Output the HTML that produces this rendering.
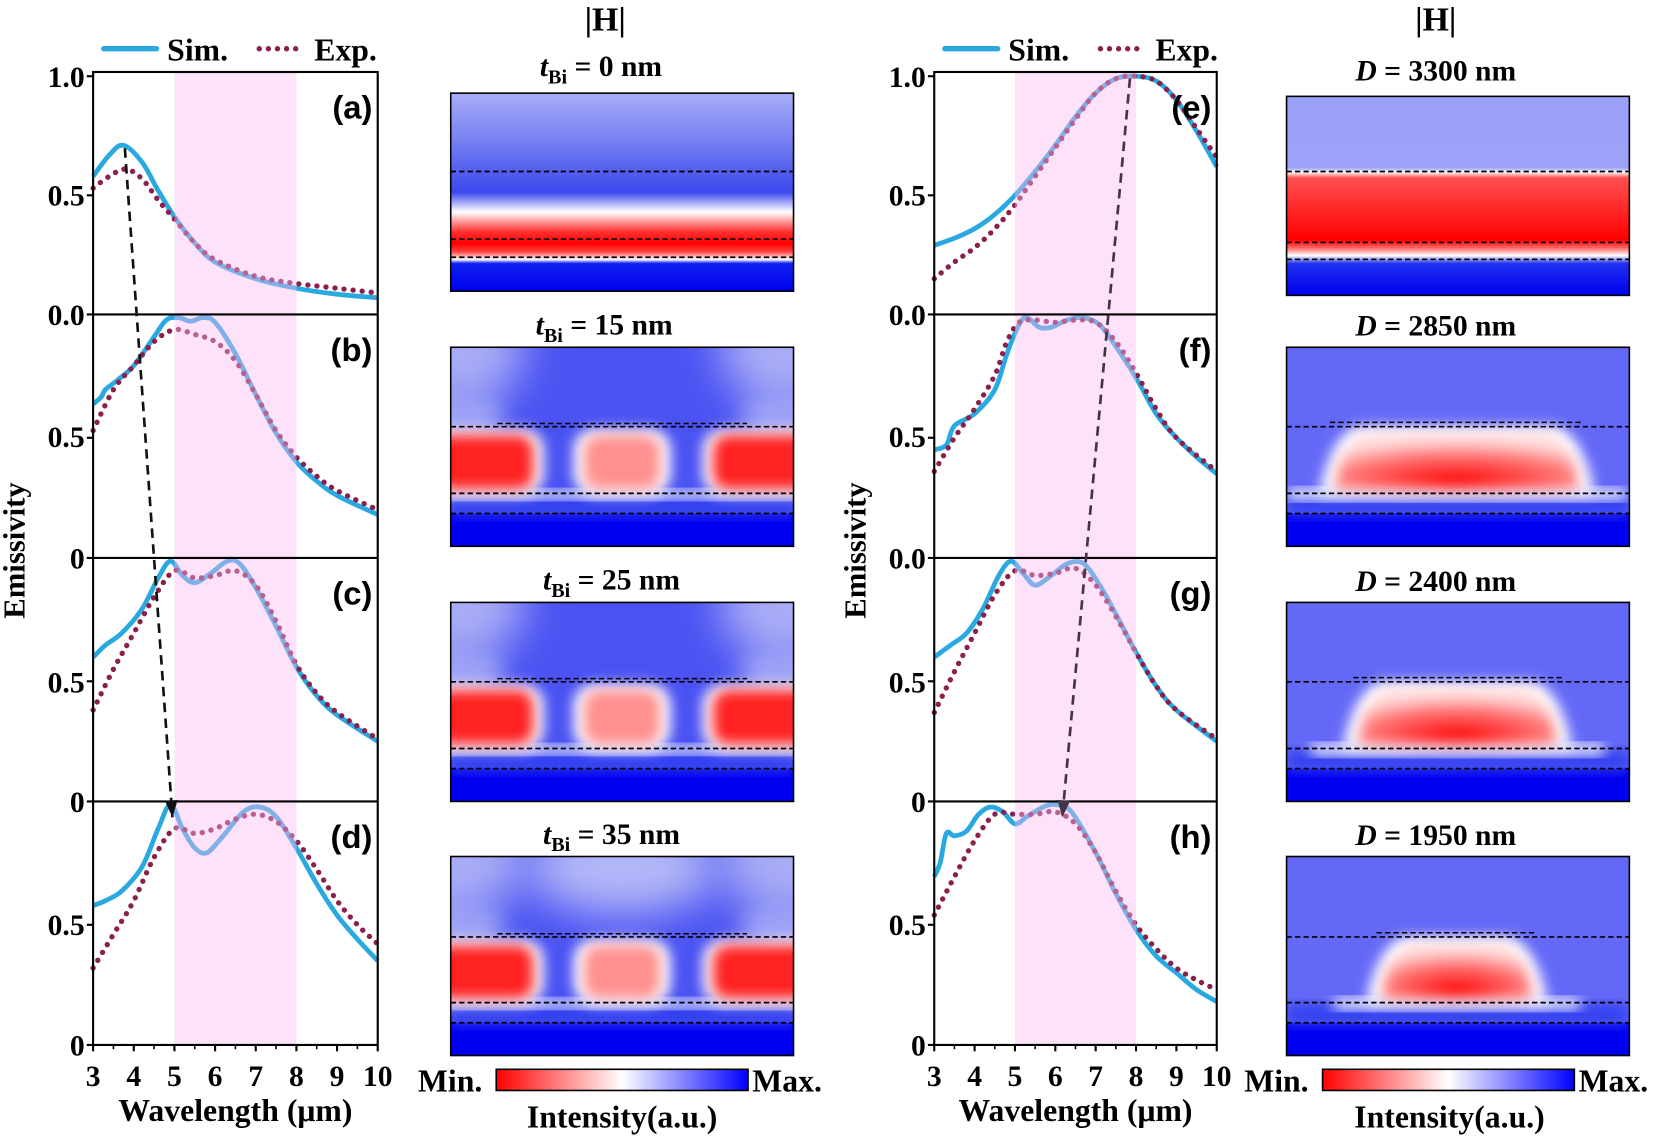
<!DOCTYPE html>
<html><head><meta charset="utf-8"><style>
html,body{margin:0;padding:0;background:#fff}
svg{display:block}
text{font-family:"Liberation Serif",serif;font-weight:bold;fill:#000}
.pl{font-family:"Liberation Sans",sans-serif;font-size:31px}
.tk{font-size:28px}
</style></head><body>
<svg id="s" width="1659" height="1136" viewBox="0 0 1568 1073" preserveAspectRatio="none" xmlns="http://www.w3.org/2000/svg">
<defs>
<filter id="b6" x="-30%" y="-30%" width="160%" height="160%"><feGaussianBlur stdDeviation="6"/></filter>
<filter id="b10" x="-30%" y="-30%" width="160%" height="160%"><feGaussianBlur stdDeviation="10"/></filter>
<filter id="b20" x="-50%" y="-50%" width="200%" height="200%"><feGaussianBlur stdDeviation="20"/></filter>
<linearGradient id="cb" x1="0" x2="1"><stop offset="0" stop-color="#ff0000"/><stop offset="0.5" stop-color="#ffffff"/><stop offset="1" stop-color="#0000ff"/></linearGradient>
<linearGradient id="ga" x1="0" y1="0" x2="0" y2="1">
<stop offset="0" stop-color="#a8aef7"/><stop offset="0.3" stop-color="#6a74f0"/><stop offset="0.5" stop-color="#3c48ee"/>
<stop offset="0.6" stop-color="#ffffff"/><stop offset="0.7" stop-color="#ff3030"/><stop offset="0.76" stop-color="#ff0000"/>
<stop offset="0.8" stop-color="#ff4040"/><stop offset="0.84" stop-color="#ffffff"/><stop offset="0.86" stop-color="#1020f0"/><stop offset="1" stop-color="#0000ee"/></linearGradient>
<linearGradient id="ge" x1="0" y1="0" x2="0" y2="1">
<stop offset="0" stop-color="#9aa0f8"/><stop offset="0.36" stop-color="#9ca2f8"/><stop offset="0.38" stop-color="#ffffff"/>
<stop offset="0.41" stop-color="#ff5050"/><stop offset="0.72" stop-color="#ff0000"/><stop offset="0.76" stop-color="#ff6060"/>
<stop offset="0.8" stop-color="#ffffff"/><stop offset="0.84" stop-color="#2030f0"/><stop offset="1" stop-color="#0000ee"/></linearGradient>
<radialGradient id="rd" cx="0.5" cy="0.85" r="0.7"><stop offset="0" stop-color="#ff0000"/><stop offset="0.7" stop-color="#ff8080"/><stop offset="1" stop-color="#ffe0e0"/></radialGradient>
</defs>
<g id="g"></g>
</svg>
<script>
var NS="http://www.w3.org/2000/svg",G=document.getElementById("g");
function el(t,a,txt,p){var e=document.createElementNS(NS,t);for(var k in a)e.setAttribute(k,a[k]);if(txt!=null)e.textContent=txt;(p||G).appendChild(e);return e;}
function path(pts){var d="M"+pts[0][0]+","+pts[0][1];for(var i=0;i<pts.length-1;i++){var p0=pts[i-1]||pts[i],p1=pts[i],p2=pts[i+1],p3=pts[i+2]||p2;
var c1=[p1[0]+(p2[0]-p0[0])/6,p1[1]+(p2[1]-p0[1])/6],c2=[p2[0]-(p3[0]-p1[0])/6,p2[1]-(p3[1]-p1[1])/6];
d+="C"+c1[0].toFixed(1)+","+c1[1].toFixed(1)+" "+c2[0].toFixed(1)+","+c2[1].toFixed(1)+" "+p2[0].toFixed(1)+","+p2[1].toFixed(1);}return d;}
var D={
a:[[[3,.58],[3.4,.67],[3.75,.71],[4.2,.64],[4.6,.52],[5,.41],[5.5,.3],[6,.22],[7,.15],[8,.11],[9,.085],[10,.07]],
[[3,.53],[3.4,.58],[3.8,.61],[4.2,.57],[4.6,.48],[5,.4],[5.5,.3],[6,.23],[7,.16],[8,.13],[9,.11],[10,.09]]],
b:[[[3,.64],[3.2,.67],[3.3,.7],[3.6,.74],[4,.8],[4.5,.92],[4.8,.99],[5.1,1],[5.4,.985],[5.7,1],[6,.98],[6.5,.85],[7,.68],[7.5,.52],[8,.4],[8.5,.32],[9,.26],[10,.18]],
[[3,.53],[3.5,.7],[4,.8],[4.5,.9],[5,.95],[5.5,.93],[6,.9],[6.5,.82],[7,.68],[7.5,.53],[8,.42],[8.5,.34],[9,.28],[10,.2]]],
c:[[[3,.6],[3.3,.65],[3.7,.7],[4.2,.8],[4.6,.93],[4.9,1],[5.2,.94],[5.5,.91],[5.9,.95],[6.3,1],[6.6,.99],[7,.89],[7.5,.73],[8,.56],[8.5,.44],[9,.36],[10,.25]],
[[3,.38],[3.5,.55],[4,.7],[4.5,.85],[5,.96],[5.5,.93],[6,.94],[6.5,.96],[7,.9],[7.5,.75],[8,.57],[8.5,.45],[9,.37],[10,.26]]],
d:[[[3,.58],[3.3,.6],[3.7,.64],[4.2,.74],[4.6,.9],[4.9,1],[5.2,.9],[5.5,.82],[5.8,.8],[6.2,.87],[6.7,.97],[7.1,.99],[7.5,.95],[8,.82],[8.5,.67],[9,.54],[9.5,.44],[10,.35]],
[[3,.32],[3.5,.46],[4,.6],[4.5,.78],[5,.9],[5.5,.88],[6,.9],[6.5,.94],[7,.96],[7.5,.93],[8,.85],[8.5,.73],[9,.6],[9.5,.5],[10,.42]]],
e:[[[3,.29],[3.5,.32],[4,.36],[4.5,.42],[5,.5],[5.5,.6],[6,.71],[6.5,.83],[7,.93],[7.5,.99],[8,1],[8.5,.98],[9,.9],[9.5,.77],[10,.62]],
[[3,.15],[3.5,.22],[4,.28],[4.5,.36],[5,.46],[5.5,.58],[6,.7],[6.5,.82],[7,.93],[7.5,.99],[8,1],[8.5,.98],[9,.9],[9.5,.78],[10,.66]]],
f:[[[3,.45],[3.3,.47],[3.5,.55],[4,.6],[4.5,.7],[4.8,.85],[5.1,.97],[5.3,1],[5.6,.96],[5.9,.96],[6.3,.99],[6.7,1],[7.1,.97],[7.5,.88],[8,.75],[8.5,.6],[9,.5],[9.5,.42],[10,.35]],
[[3,.36],[3.5,.5],[4,.62],[4.5,.76],[4.8,.9],[5.1,.98],[5.5,.99],[6,.98],[6.5,.99],[7,.98],[7.5,.9],[8,.77],[8.5,.62],[9,.5],[10,.36]]],
g:[[[3,.6],[3.4,.65],[3.8,.7],[4.2,.8],[4.6,.94],[4.9,1],[5.2,.95],[5.5,.9],[5.9,.94],[6.3,.99],[6.7,.99],[7.1,.9],[7.5,.78],[8,.62],[8.5,.48],[9,.38],[10,.25]],
[[3,.37],[3.5,.54],[4,.7],[4.5,.86],[5,.96],[5.5,.94],[6,.95],[6.5,.97],[7,.9],[7.5,.77],[8,.62],[8.5,.48],[9,.38],[10,.26]]],
h:[[[3,.7],[3.15,.76],[3.3,.88],[3.5,.87],[3.8,.89],[4.1,.96],[4.4,.99],[4.7,.97],[5,.92],[5.3,.95],[5.7,.99],[6,1],[6.4,.97],[7,.8],[7.5,.63],[8,.48],[8.5,.37],[9,.3],[9.5,.23],[10,.18]],
[[3,.54],[3.5,.7],[4,.85],[4.5,.96],[5,.96],[5.5,.96],[6,.97],[6.5,.92],[7,.8],[7.5,.64],[8,.5],[8.5,.4],[9,.32],[9.5,.27],[10,.23]]]};
var tops=[68,297,527,757],bot=[297,527,757,987];
function plotCol(x0,x1,keys,lab){
 var sx=function(l){return x0+(l-3)*(x1-x0)/7;};
 keys.forEach(function(k,i){
  var yb=bot[i],yt=(i==0?72:tops[i]+3),sy=function(v){return yb-v*(yb-yt);};
  var s=D[k];
  el("path",{d:path(s[0].map(function(p){return[sx(p[0]),sy(p[1])];})),fill:"none",stroke:"#29a9e0","stroke-width":4.5});
  el("path",{d:path(s[1].map(function(p){return[sx(p[0]),sy(p[1])];})),fill:"none",stroke:"#8b1f4e","stroke-width":5,"stroke-dasharray":"0.1 8.5","stroke-linecap":"round"});
  el("rect",{x:sx(5),y:tops[i],width:sx(8)-sx(5),height:bot[i]-tops[i],fill:"rgb(250,185,240)","fill-opacity":0.42});
  el("text",{x:x1-5,y:tops[i]+44,"text-anchor":"end","class":"pl"},"("+k+")");
  var labs=i==0?[yt,(yt+yb)/2,yb]:[(yt+yb)/2,yb];
  labs.forEach(function(t){el("line",{x1:x0-6,x2:x0,y1:t,y2:t,stroke:"#000","stroke-width":2});});
 });
 var L=[["1.0",72],["0.5",184],["0.0",297],["0.5",412],[lab?"0.0":"0",527],["0.5",644],["0",757],["0.5",873],["0",987]];
 L.forEach(function(t){el("text",{x:x0-8,y:t[1]+10,"text-anchor":"end","class":"tk"},t[0]);});
 el("rect",{x:x0,y:68,width:x1-x0,height:919,fill:"none",stroke:"#000","stroke-width":2});
 [297,527,757].forEach(function(y){el("line",{x1:x0,x2:x1,y1:y,y2:y,stroke:"#000","stroke-width":2});});
 for(var l=3;l<=10;l++){var x=sx(l);el("line",{x1:x,x2:x,y1:987,y2:993,stroke:"#000","stroke-width":2});
  el("text",{x:x,y:1026,"text-anchor":"middle","class":"tk"},""+l);
  if(l<10)el("line",{x1:x+(sx(l+1)-x)/2,x2:x+(sx(l+1)-x)/2,y1:987,y2:991,stroke:"#000","stroke-width":1.5});}
 el("text",{x:(x0+x1)/2,y:1059,"text-anchor":"middle","font-size":30},"Wavelength (μm)");
 el("text",{x:0,y:0,transform:"translate("+(x0-65)+",520) rotate(-90)","text-anchor":"middle","font-size":29},"Emissivity");
 el("line",{x1:x0+10,x2:x0+60,y1:46,y2:46,stroke:"#29a9e0","stroke-width":5,"stroke-linecap":"round"});
 el("text",{x:x0+70,y:57,"font-size":30},"Sim.");
 el("line",{x1:x0+157,x2:x0+200,y1:46,y2:46,stroke:"#8b1f4e","stroke-width":5,"stroke-dasharray":"0.1 8.5","stroke-linecap":"round"});
 el("text",{x:x0+209,y:57,"font-size":30},"Exp.");
}
plotCol(88,357,["a","b","c","d"],false);
plotCol(883,1150,["e","f","g","h"],true);
function arrow(x1,y1,x2,y2,c){el("line",{x1:x1,y1:y1,x2:x2,y2:y2,stroke:c,"stroke-width":2.5,"stroke-dasharray":"9 6"});
 var a=Math.atan2(y2-y1,x2-x1),L=16,w=6;var bx=x2-L*Math.cos(a),by=y2-L*Math.sin(a);
 el("polygon",{points:x2+","+y2+" "+(bx-w*Math.sin(a))+","+(by+w*Math.cos(a))+" "+(bx+w*Math.sin(a))+","+(by-w*Math.cos(a)),fill:c});}
arrow(118,140,163,772,"#111");
arrow(1068,74,1004,772,"#443344");

var cid=0;
function clip(x,y,w,h){var id="c"+(cid++);var c=el("clipPath",{id:id});el("rect",{x:x,y:y,width:w,height:h},null,c);return id;}
function dash(x0,x1,y){el("line",{x1:x0,x2:x1,y1:y,y2:y,stroke:"#000","stroke-width":1.6,"stroke-dasharray":"5 3"});}
function mapA(x,y,w,h,grad,l1,l2,l3){el("rect",{x:x,y:y,width:w,height:h,fill:"url(#"+grad+")"});dash(x,x+w,l1);dash(x,x+w,l2);dash(x,x+w,l3);el("rect",{x:x,y:y,width:w,height:h,fill:"none",stroke:"#000","stroke-width":1.5});}
function mapLeft(x,y,w,h,l1,l2,l3,mid){
 var g=el("g",{"clip-path":"url(#"+clip(x,y,w,h)+")"});
 el("rect",{x:x,y:y,width:w,height:h,fill:"#4a52f2"},null,g);
 el("ellipse",{cx:x,cy:y,rx:70,ry:60,fill:"#a8acf6",filter:"url(#b20)"},null,g);
 el("ellipse",{cx:x+w,cy:y,rx:70,ry:60,fill:"#a8acf6",filter:"url(#b20)"},null,g);
 el("ellipse",{cx:x,cy:l1-10,rx:50,ry:25,fill:"#9ca2f6",filter:"url(#b10)"},null,g);
 el("ellipse",{cx:x+w,cy:l1-10,rx:50,ry:25,fill:"#9ca2f6",filter:"url(#b10)"},null,g);
 if(mid)el("ellipse",{cx:x+w/2,cy:y+10,rx:90,ry:45,fill:"#b4b8f8",filter:"url(#b20)"},null,g);
 el("rect",{x:x,y:l3,width:w,height:y+h-l3,fill:"#0000f0"},null,g);
 el("rect",{x:x,y:l2+2,width:w,height:l3-l2,fill:"#3040f0",filter:"url(#b6)"},null,g);
 el("rect",{x:x-10,y:l2-3,width:w+20,height:8,fill:"#fff",filter:"url(#b6)"},null,g);
 var r=[[x-20,100],[x+w/2-38,76],[x+w-78,100]];
 r.forEach(function(q,i){el("rect",{x:q[0]-8,y:l1+2,width:q[1]+16,height:l2-l1,rx:20,fill:"#fff",filter:"url(#b6)"},null,g);
  el("rect",{x:q[0]+2,y:l1+8,width:q[1]-4,height:l2-l1-12,rx:14,fill:i==1?"#ff9090":"#ff2020",filter:"url(#b6)"},null,g);});
 el("line",{x1:x+44,x2:x+280,y1:l1-3,y2:l1-3,stroke:"#000","stroke-width":1.4,"stroke-dasharray":"5 3"});
 dash(x,x+w,l1);dash(x,x+w,l2);dash(x,x+w,l3);
 el("rect",{x:x,y:y,width:w,height:h,fill:"none",stroke:"#000","stroke-width":1.5});}
function mapRight(x,y,w,h,l1,l2,l3,bx0,bx1){
 var g=el("g",{"clip-path":"url(#"+clip(x,y,w,h)+")"});
 el("rect",{x:x,y:y,width:w,height:h,fill:"#6468f6"},null,g);
 el("rect",{x:x,y:l3,width:w,height:y+h-l3,fill:"#0000f0"},null,g);
 el("rect",{x:x,y:l2+2,width:w,height:l3-l2,fill:"#3040f0",filter:"url(#b6)"},null,g);
 el("rect",{x:bx0-20,y:l2-4,width:bx1-bx0+40,height:10,fill:"#fff",filter:"url(#b6)"},null,g);
 el("path",{d:"M"+(bx0+10)+","+l2+" Q"+(bx0+20)+","+(l1+10)+" "+(bx0+45)+","+l1+" L"+(bx1-45)+","+l1+" Q"+(bx1-20)+","+(l1+10)+" "+(bx1-10)+","+l2+" Z",fill:"#fff",filter:"url(#b6)"},null,g);
 el("path",{d:"M"+(bx0+25)+","+(l2-4)+" Q"+(bx0+30)+","+(l1+12)+" "+(bx0+55)+","+(l1+5)+" L"+(bx1-55)+","+(l1+5)+" Q"+(bx1-30)+","+(l1+12)+" "+(bx1-25)+","+(l2-4)+" Z",fill:"url(#rd)",filter:"url(#b6)"},null,g);
 el("line",{x1:bx0+20,x2:bx1-20,y1:l1-4,y2:l1-4,stroke:"#000","stroke-width":1.4,"stroke-dasharray":"5 3"});
 dash(x,x+w,l1);dash(x,x+w,l2);dash(x,x+w,l3);
 el("rect",{x:x,y:y,width:w,height:h,fill:"none",stroke:"#000","stroke-width":1.5});}
mapA(426,88,324,187,"ga",162,226,243);
mapLeft(426,328,324,188,403,466,485,false);
mapLeft(426,569,324,188,644,707,726,false);
mapLeft(426,809,324,188,885,947,966,true);
mapA(1216,91,324,188,"ge",162,229,245);
mapRight(1216,328,324,188,403,466,485,1237,1517);
mapRight(1216,569,324,188,644,707,726,1259,1496);
mapRight(1216,809,324,188,885,947,966,1281,1473);
function tB(cx,y,n){var t=el("text",{x:cx,y:y,"text-anchor":"middle","font-size":28});
 el("tspan",{"font-style":"italic"},"t",t);el("tspan",{"font-size":19,dy:7},"Bi",t);el("tspan",{dy:-7},n,t);}
tB(568,72," = 0 nm");tB(571,316," = 15 nm");tB(578,557," = 25 nm");tB(578,797," = 35 nm");
function tD(cx,y,n){var t=el("text",{x:cx,y:y,"text-anchor":"middle","font-size":28});el("tspan",{"font-style":"italic"},"D",t);el("tspan",{},n,t);}
tD(1357,76," = 3300 nm");tD(1357,317," = 2850 nm");tD(1357,558," = 2400 nm");tD(1357,798," = 1950 nm");
el("text",{x:572,y:29,"text-anchor":"middle","font-size":32},"|H|");
el("text",{x:1357,y:29,"text-anchor":"middle","font-size":32},"|H|");
[[469,395,711,588],[1250,1176,1492,1370]].forEach(function(c){
 el("rect",{x:c[0],y:1010,width:238,height:20,fill:"url(#cb)",stroke:"#000","stroke-width":1.5});
 el("text",{x:c[1],y:1031,"font-size":30},"Min.");
 el("text",{x:c[2],y:1031,"font-size":30},"Max.");
 el("text",{x:c[3],y:1065,"text-anchor":"middle","font-size":30},"Intensity(a.u.)");});
</script>
</body></html>
